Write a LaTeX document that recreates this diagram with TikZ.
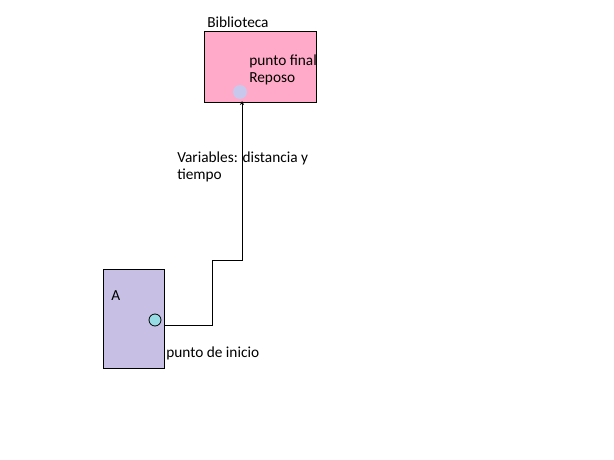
\documentclass[tikz,border=0pt]{standalone}
\usepackage{fontspec}
\setmainfont{Carlito}
\usetikzlibrary{arrows.meta, positioning, calc}
\definecolor{rosa}{RGB}{255,170,200}
\definecolor{lila}{RGB}{200,192,228}
\definecolor{lilapunto}{RGB}{200,200,236}
\definecolor{celeste}{RGB}{150,220,228}

\begin{document}
\begin{tikzpicture}[x=0.75pt, y=-0.75pt,
    caja/.style={draw, line width=0.6pt, anchor=north west, inner sep=0pt},
    etiqueta/.style={anchor=west, inner sep=0pt, font=\fontsize{11.5}{12.75}\selectfont, align=left}]
  \useasboundingbox (0,0) rectangle (614,460);
  % destino
  \node[caja, fill=rosa, minimum width=112*0.75pt, minimum height=71*0.75pt] (biblio) at (204,31) {};
  \node[etiqueta] (titulo) at (207,22) {Biblioteca};
  \node[etiqueta] (final) at (249,70) {punto final\\Reposo};
  \fill[lilapunto] (240,92) circle (7);
  % origen
  \node[caja, fill=lila, minimum width=61*0.75pt, minimum height=99*0.75pt] (casa) at (103,269) {};
  \node[etiqueta] (A) at (111,296) {A};
  \node[draw, circle, fill=celeste, minimum size=12*0.75pt, inner sep=0pt, line width=0.6pt] (inicio) at (155,320) {};
  \node[etiqueta] (textoinicio) at (166,353) {punto de inicio};
  % trayecto
  \coordinate (salida) at (164,325);
  \coordinate (llegada) at (242,101);
  \node[etiqueta] (variables) at (177,167) {Variables: distancia y\\tiempo};
  \draw[line width=0.6pt, -{Stealth[length=3pt, width=3pt]}] (salida) -- (212,325) -- (212,260) -- (242,260) -- (llegada);
\end{tikzpicture}
\end{document}
